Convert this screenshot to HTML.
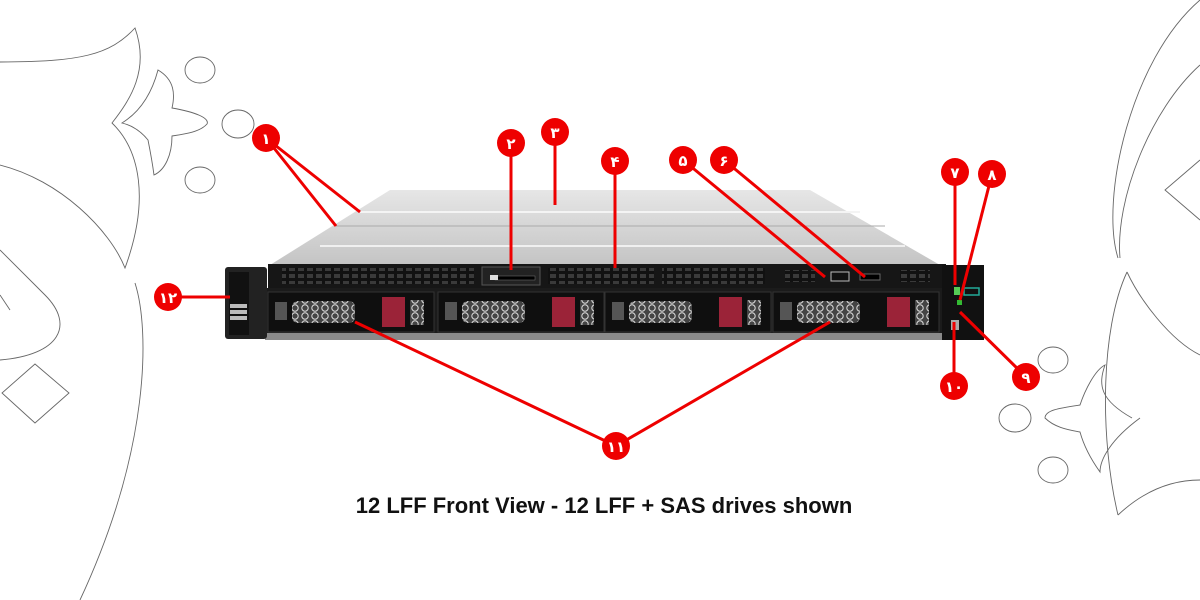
<!DOCTYPE html>
<html><head><meta charset="utf-8"><style>
html,body{margin:0;padding:0;background:#fff;width:1200px;height:600px;overflow:hidden}
svg{display:block}
.b text{font-family:"DejaVu Sans",sans-serif;font-weight:bold;fill:#fff;font-size:15px;text-anchor:middle}
</style></head><body>
<svg width="1200" height="600" viewBox="0 0 1200 600" xmlns="http://www.w3.org/2000/svg">
<defs>
<linearGradient id="lid" x1="0" y1="0" x2="0" y2="1"><stop offset="0" stop-color="#e6e6e6"/><stop offset="1" stop-color="#c4c4c4"/></linearGradient>
<pattern id="vent" width="9" height="7" patternUnits="userSpaceOnUse"><rect width="9" height="7" fill="#111"/><rect x="1" y="1" width="6" height="4" fill="#3a3a3a"/></pattern>
<pattern id="hex" width="10" height="8" patternUnits="userSpaceOnUse"><rect width="10" height="8" fill="#444"/><circle cx="5" cy="4" r="3.2" fill="none" stroke="#ddd" stroke-width="1"/></pattern>
</defs>
<g fill="none" stroke="#666" stroke-width="0.9">
<path d="M0,62 C80,62 110,55 135,28 C150,70 130,100 112,123 C140,150 150,200 125,268 C110,230 60,180 0,165"/>
<path d="M158,70 C175,80 175,95 172,108 C195,112 210,118 207,124 C200,132 185,134 172,136 C172,155 165,170 154,175 C152,160 150,150 148,140 C140,130 130,125 122,123 C135,115 150,100 158,70Z"/>
<ellipse cx="200" cy="70" rx="15" ry="13"/><ellipse cx="238" cy="124" rx="16" ry="14"/><ellipse cx="200" cy="180" rx="15" ry="13"/>
<path d="M135,283 C150,330 150,450 80,600"/>
<path d="M0,250 L45,295 C75,325 60,355 0,360"/><path d="M0,295 L10,310"/>
<path d="M35,364 L69,393 L35,423 L2,393Z"/>
<path d="M1200,0 C1130,60 1100,200 1118,258"/><path d="M1200,65 C1150,110 1115,200 1120,258"/>
<path d="M1200,160 L1165,190 L1200,220"/>
<path d="M1127,272 C1100,330 1100,440 1118,515"/><path d="M1127,272 C1140,300 1170,340 1200,355"/><path d="M1118,515 C1150,485 1180,480 1200,480"/>
<path d="M1140,418 C1110,440 1100,460 1100,472 C1095,465 1085,450 1080,432 C1070,430 1055,428 1045,418 C1045,410 1060,408 1080,405 C1085,390 1095,370 1105,365 C1098,385 1100,400 1132,418"/>
<ellipse cx="1053" cy="360" rx="15" ry="13"/><ellipse cx="1015" cy="418" rx="16" ry="14"/><ellipse cx="1053" cy="470" rx="15" ry="13"/>
</g>
<!-- server -->
<polygon points="390,190 810,190 940,265 270,265" fill="url(#lid)"/>
<line x1="360" y1="212" x2="860" y2="212" stroke="#f4f4f4" stroke-width="2"/>
<line x1="336" y1="226" x2="885" y2="226" stroke="#aaa" stroke-width="1"/>
<line x1="320" y1="246" x2="905" y2="246" stroke="#f0f0f0" stroke-width="2"/>
<rect x="268" y="264" width="678" height="24" fill="#161616"/>
<rect x="282" y="268" width="192" height="16" fill="url(#vent)"/>
<rect x="482" y="267" width="58" height="18" fill="#222" stroke="#555"/>
<rect x="495" y="276" width="40" height="4" fill="#000" stroke="#777" stroke-width="0.5"/>
<rect x="490" y="275" width="8" height="5" fill="#ddd"/>
<rect x="548" y="268" width="106" height="16" fill="url(#vent)"/>
<rect x="662" y="268" width="103" height="16" fill="url(#vent)"/>
<rect x="785" y="270" width="30" height="12" fill="url(#vent)"/>
<rect x="831" y="272" width="18" height="9" fill="#111" stroke="#bbb"/>
<rect x="860" y="274" width="20" height="6" fill="#000" stroke="#666"/>
<rect x="900" y="270" width="30" height="12" fill="url(#vent)"/>
<rect x="265" y="288" width="678" height="46" fill="#1b1b1b"/>
<rect x="265" y="333" width="678" height="7" fill="#8a8a8a"/>
<g id="drv">
<rect x="268" y="292" width="166" height="40" fill="#0f0f0f" stroke="#333"/>
<rect x="275" y="302" width="12" height="18" fill="#555"/>
<rect x="292" y="301" width="63" height="22" rx="6" fill="url(#hex)"/>
<rect x="382" y="297" width="23" height="30" fill="#9b2338"/>
<rect x="410" y="300" width="14" height="25" fill="url(#hex)"/>
</g>
<use href="#drv" x="170"/><use href="#drv" x="337"/><use href="#drv" x="505"/>
<rect x="225" y="267" width="42" height="72" rx="3" fill="#222"/>
<rect x="229" y="272" width="20" height="63" fill="#111"/>
<rect x="230" y="304" width="17" height="4" fill="#bbb"/><rect x="230" y="310" width="17" height="4" fill="#bbb"/><rect x="230" y="316" width="17" height="4" fill="#bbb"/>
<rect x="942" y="265" width="42" height="75" fill="#111"/>
<rect x="954" y="287" width="6" height="8" fill="#5c5"/><rect x="957" y="300" width="5" height="5" fill="#3b3"/>
<rect x="951" y="320" width="8" height="10" fill="#aaa"/>
<rect x="964" y="288" width="15" height="7" fill="none" stroke="#2a9" stroke-width="1.5"/>
<!-- callout lines -->
<g stroke="#ee0000" stroke-width="3" fill="none">
<path d="M266,138 L360,212 M266,138 L336,226"/>
<path d="M511,143 L511,270"/><path d="M555,132 L555,205"/><path d="M615,161 L615,268"/>
<path d="M683,160 L825,277"/><path d="M724,160 L865,277"/>
<path d="M955,172 L955,285"/><path d="M992,174 L960,300"/>
<path d="M1026,377 L960,312"/><path d="M954,386 L954,322"/>
<path d="M616,446 L355,322 M616,446 L830,322"/>
<path d="M168,297 L230,297"/>
</g>
<g class="b">
<circle cx="266" cy="138" r="14" fill="#ee0000"/><text x="266" y="144">۱</text>
<circle cx="511" cy="143" r="14" fill="#ee0000"/><text x="511" y="149">۲</text>
<circle cx="555" cy="132" r="14" fill="#ee0000"/><text x="555" y="138">۳</text>
<circle cx="615" cy="161" r="14" fill="#ee0000"/><text x="615" y="167">۴</text>
<circle cx="683" cy="160" r="14" fill="#ee0000"/><text x="683" y="166">۵</text>
<circle cx="724" cy="160" r="14" fill="#ee0000"/><text x="724" y="166">۶</text>
<circle cx="955" cy="172" r="14" fill="#ee0000"/><text x="955" y="178">۷</text>
<circle cx="992" cy="174" r="14" fill="#ee0000"/><text x="992" y="180">۸</text>
<circle cx="1026" cy="377" r="14" fill="#ee0000"/><text x="1026" y="383">۹</text>
<circle cx="954" cy="386" r="14" fill="#ee0000"/><text x="954" y="392">۱۰</text>
<circle cx="616" cy="446" r="14" fill="#ee0000"/><text x="616" y="452">۱۱</text>
<circle cx="168" cy="297" r="14" fill="#ee0000"/><text x="168" y="303">۱۲</text>
</g>
<text x="604" y="513" text-anchor="middle" font-family="Liberation Sans, sans-serif" font-weight="bold" font-size="22" fill="#111">12 LFF Front View - 12 LFF + SAS drives shown</text>
</svg>
</body></html>
